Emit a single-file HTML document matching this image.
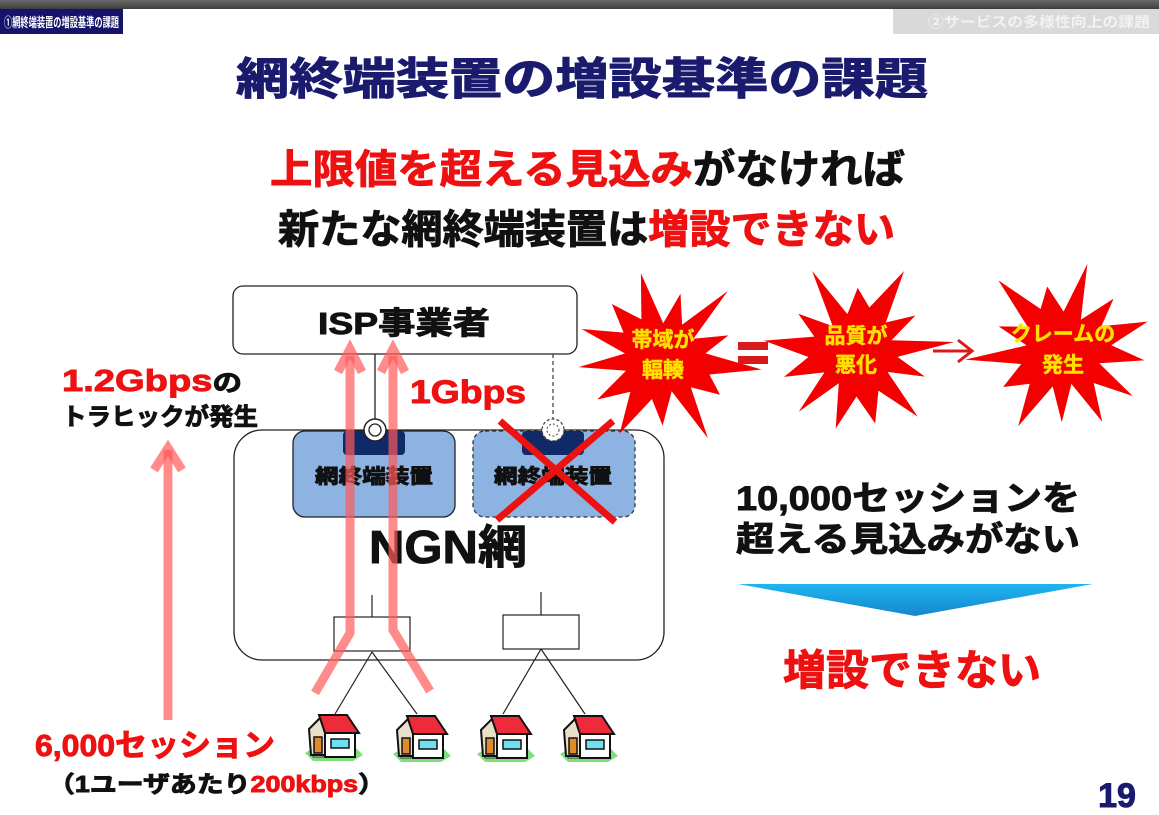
<!DOCTYPE html>
<html><head><meta charset="utf-8">
<style>
html,body{margin:0;padding:0;background:#fff;}
svg{display:block;}
text{font-family:"Liberation Sans","Noto Sans CJK JP",sans-serif;font-weight:bold;}
.r{fill:#ee1111;stroke:#ee1111;stroke-width:0.9;}
.k{fill:#111;stroke:#111;stroke-width:0.9;}
.n{fill:#1b1b6e;stroke:#1b1b6e;stroke-width:1;}
.y{fill:#ffe100;stroke:#ffe100;stroke-width:0.5;}
</style></head>
<body>
<svg id="s" width="1159" height="815" viewBox="0 0 1159 815" xmlns="http://www.w3.org/2000/svg">
<defs>
<linearGradient id="bar" x1="0" y1="0" x2="0" y2="1"><stop offset="0" stop-color="#6a6a6a"/><stop offset="1" stop-color="#3c3c3c"/></linearGradient>
<linearGradient id="tri" x1="0" y1="0" x2="0" y2="1"><stop offset="0" stop-color="#1fb5f0"/><stop offset="1" stop-color="#1686cf"/></linearGradient>
<g id="house">
<polygon points="0,38 10,32 50,32 58,40 48,46 8,46" fill="#7de07d"/>
<rect x="8" y="36" width="10" height="6" fill="#eee" stroke="#333" stroke-width="1"/>
<polygon points="4,14 16,2 24,14 24,40 6,40" fill="#e8e0c8" stroke="#111" stroke-width="2"/>
<rect x="9" y="22" width="8" height="16" fill="#e08a2a" stroke="#111" stroke-width="1.5"/>
<rect x="20" y="18" width="30" height="24" fill="#fff" stroke="#111" stroke-width="2"/>
<rect x="26" y="24" width="18" height="9" fill="#6fe0f0" stroke="#111" stroke-width="1.5"/>
<polygon points="14,0 42,0 54,18 20,18" fill="#ee2b3a" stroke="#111" stroke-width="2"/>
</g>
</defs>
<rect x="0" y="0" width="1159" height="9" fill="url(#bar)"/>
<rect x="0" y="9" width="123" height="25" fill="#14146b"/>
<text x="4" y="27" font-size="13" fill="#fff" textLength="115" lengthAdjust="spacingAndGlyphs">①網終端装置の増設基準の課題</text>
<rect x="893" y="9" width="266" height="25" fill="#d9d9d9"/>
<text x="928" y="27" font-size="14" fill="#f2f2f2" textLength="222" lengthAdjust="spacingAndGlyphs">②サービスの多様性向上の課題</text>

<text x="236" y="94" font-size="44" class="n" textLength="692" lengthAdjust="spacingAndGlyphs">網終端装置の増設基準の課題</text>
<text x="270" y="183" font-size="40" textLength="635" lengthAdjust="spacingAndGlyphs"><tspan class="r">上限値を超える見込み</tspan><tspan class="k">がなければ</tspan></text>
<text x="278" y="243" font-size="40" textLength="617" lengthAdjust="spacingAndGlyphs"><tspan class="k">新たな網終端装置は</tspan><tspan class="r">増設できない</tspan></text>

<rect x="234" y="430" width="430" height="230" rx="28" fill="#fff" stroke="#222" stroke-width="1.3"/>
<rect x="233" y="286" width="344" height="68" rx="10" fill="#fff" stroke="#222" stroke-width="1.3"/>
<text x="318" y="334" font-size="31" class="k" textLength="172" lengthAdjust="spacingAndGlyphs">ISP事業者</text>
<line x1="375" y1="354" x2="375" y2="419" stroke="#222" stroke-width="1.3"/>
<line x1="553" y1="354" x2="553" y2="419" stroke="#444" stroke-width="1.3" stroke-dasharray="4,3"/>
<rect x="293" y="431" width="162" height="86" rx="12" fill="#8db3e2" stroke="#222" stroke-width="1.3"/>
<rect x="343" y="431" width="62" height="24" rx="4" fill="#0f2a66"/>
<text x="315" y="483" font-size="20" class="k" textLength="118" lengthAdjust="spacingAndGlyphs">網終端装置</text>
<circle cx="375" cy="430" r="11" fill="#fff" stroke="#222" stroke-width="1.5"/><circle cx="375" cy="430" r="6" fill="#fff" stroke="#222" stroke-width="1.3"/>
<rect x="473" y="431" width="162" height="86" rx="12" fill="#8db3e2" stroke="#333" stroke-width="1.3" stroke-dasharray="4,3"/>
<rect x="522" y="431" width="62" height="24" rx="4" fill="#0f2a66"/>
<text x="494" y="483" font-size="20" class="k" textLength="118" lengthAdjust="spacingAndGlyphs">網終端装置</text>
<circle cx="553" cy="430" r="11" fill="#fff" stroke="#444" stroke-width="1.3" stroke-dasharray="3,2"/><circle cx="553" cy="430" r="6" fill="#fff" stroke="#444" stroke-width="1" stroke-dasharray="2,2"/>
<line x1="500" y1="421" x2="615" y2="522" stroke="#ee1111" stroke-width="7"/>
<line x1="613" y1="421" x2="497" y2="520" stroke="#ee1111" stroke-width="7"/>
<text x="369" y="563" font-size="46" class="k" textLength="158" lengthAdjust="spacingAndGlyphs">NGN網</text>
<line x1="372" y1="595" x2="372" y2="617" stroke="#222" stroke-width="1.2"/>
<rect x="334" y="617" width="76" height="34" fill="#fff" stroke="#222" stroke-width="1.2"/>
<line x1="541" y1="592" x2="541" y2="615" stroke="#222" stroke-width="1.2"/>
<rect x="503" y="615" width="76" height="34" fill="#fff" stroke="#222" stroke-width="1.2"/>
<path d="M372 652 L335 714 M372 652 L417 714 M541 649 L503 714 M541 649 L585 714" stroke="#222" stroke-width="1.2" fill="none"/>
<use href="#house" x="305" y="715"/>
<use href="#house" x="393" y="716"/>
<use href="#house" x="477" y="716"/>
<use href="#house" x="560" y="716"/>
<g stroke="#ff5a5a" stroke-opacity="0.7" stroke-width="9" fill="none" stroke-linejoin="miter">
<polyline points="315,693 350,633 350,356"/>
<polyline points="338,372 350,349 362,372"/>
<polyline points="430,691 393,630 393,356"/>
<polyline points="381,372 393,349 405,372"/>
<line x1="168" y1="720" x2="168" y2="450"/>
<polyline points="154,470 168,448 182,470"/>
</g>
<text x="62" y="391" font-size="31" textLength="180" lengthAdjust="spacingAndGlyphs"><tspan class="r">1.2Gbps</tspan><tspan class="k" font-size="24">の</tspan></text>
<text x="62" y="425" font-size="24" class="k" textLength="196" lengthAdjust="spacingAndGlyphs">トラヒックが発生</text>
<text x="410" y="403" font-size="32" class="r" textLength="116" lengthAdjust="spacingAndGlyphs">1Gbps</text>
<text x="35" y="756" font-size="31" class="r" textLength="240" lengthAdjust="spacingAndGlyphs">6,000セッション</text>
<text x="48" y="792" font-size="23" textLength="337" lengthAdjust="spacingAndGlyphs"><tspan class="k">（1ユーザあたり</tspan><tspan class="r">200kbps</tspan><tspan class="k">）</tspan></text>
<g id="bursts"></g>
<text font-size="21" class="y" text-anchor="middle"><tspan x="663" y="347">帯域が</tspan><tspan x="663" y="377">輻輳</tspan></text>
<text font-size="21" class="y" text-anchor="middle"><tspan x="856" y="343">品質が</tspan><tspan x="856" y="372">悪化</tspan></text>
<text font-size="21" class="y" text-anchor="middle"><tspan x="1063" y="341">クレームの</tspan><tspan x="1063" y="372">発生</tspan></text>
<rect x="738" y="342" width="30" height="8" fill="#d81a1a"/><rect x="738" y="356" width="30" height="8" fill="#d81a1a"/>
<line x1="933" y1="351" x2="970" y2="351" stroke="#d81a1a" stroke-width="3"/>
<polyline points="958,340 972,351 958,362" stroke="#d81a1a" stroke-width="3" fill="none"/>

<text x="736" y="510" font-size="34" class="k" textLength="344" lengthAdjust="spacingAndGlyphs">10,000セッションを</text>
<text x="736" y="551" font-size="34" class="k" textLength="344" lengthAdjust="spacingAndGlyphs">超える見込みがない</text>
<polygon points="738,584 1093,584 915,616" fill="url(#tri)"/>
<text x="783" y="685" font-size="42" class="r" textLength="258" lengthAdjust="spacingAndGlyphs">増設できない</text>
<text x="1117" y="807" font-size="34" class="n" text-anchor="middle">19</text>
</svg>
<script>
(function(){
 var g=document.getElementById('bursts');
 var cs=[[663,358,1],[857,352,2],[1063,350,3]];
 cs.forEach(function(c){
  var n=13,pts=[],seed=c[2]*7.3;
  for(var i=0;i<n*2;i++){
   var a=i*Math.PI/n+seed*0.1-Math.PI/2;
   var r=(i%2==0)?(78+14*Math.sin(i*1.7+seed)):(40+6*Math.cos(i*2.3+seed));
   pts.push((c[0]+r*Math.cos(a)*1.08).toFixed(1)+','+(c[1]+r*Math.sin(a)).toFixed(1));
  }
  var p=document.createElementNS('http://www.w3.org/2000/svg','polygon');
  p.setAttribute('points',pts.join(' '));p.setAttribute('fill','#f40000');
  g.appendChild(p);
 });
})();
</script>
</body></html>
